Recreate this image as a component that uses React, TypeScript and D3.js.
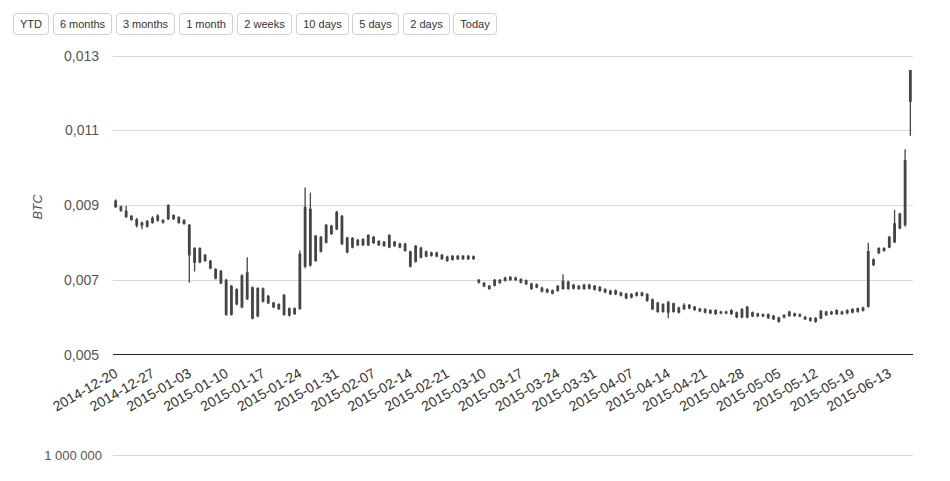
import React from 'react';
import * as d3 from 'd3';

// ---------- data ----------
const buttonLabels = ['YTD', '6 months', '3 months', '1 month', '2 weeks', '10 days', '5 days', '2 days', 'Today'];

const xTickLabels = [
  '2014-12-20', '2014-12-27', '2015-01-03', '2015-01-10', '2015-01-17', '2015-01-24',
  '2015-01-31', '2015-02-07', '2015-02-14', '2015-02-21', '2015-03-10', '2015-03-17',
  '2015-03-24', '2015-03-31', '2015-04-07', '2015-04-14', '2015-04-21', '2015-04-28',
  '2015-05-05', '2015-05-12', '2015-05-19', '2015-06-13',
];
const tickEvery = 7;

const yTicks = [0.005, 0.007, 0.009, 0.011, 0.013];
const volumeTicks = [1000000];

// candles: open, high, low, close
const opens = [
  0.00912, 0.00896, 0.00885, 0.00871, 0.00862, 0.00845, 0.00842, 0.00852, 0.00858, 0.00860,
  0.00900, 0.00873, 0.00868, 0.00860, 0.00847, 0.00785, 0.00785, 0.00767, 0.00751, 0.00729,
  0.00724, 0.00700, 0.00684, 0.00675, 0.00712, 0.00720, 0.00680, 0.00678, 0.00677, 0.00657,
  0.00639, 0.00635, 0.00660, 0.00624, 0.00624, 0.00622, 0.00735, 0.00890, 0.00818, 0.00775,
  0.00799, 0.00822, 0.00835, 0.00871, 0.00813, 0.00786, 0.00807, 0.00792, 0.00820, 0.00798,
  0.00804, 0.00790, 0.00820, 0.00802, 0.00786, 0.00797, 0.00776, 0.00748, 0.00786, 0.00776,
  0.00773, 0.00773, 0.00767, 0.00762, 0.00764, 0.00764, 0.00764, 0.00764, 0.00763, 0.00700,
  0.00692, 0.00684, 0.00684, 0.00691, 0.00697, 0.00699, 0.00706, 0.00702, 0.00699, 0.00690,
  0.00688, 0.00679, 0.00675, 0.00672, 0.00684, 0.00697, 0.00675, 0.00687, 0.00684, 0.00687,
  0.00687, 0.00684, 0.00681, 0.00675, 0.00671, 0.00661, 0.00666, 0.00663, 0.00652, 0.00657,
  0.00666, 0.00662, 0.00648, 0.00639, 0.00614, 0.00640, 0.00637, 0.00626, 0.00621, 0.00623,
  0.00628, 0.00623, 0.00622, 0.00619, 0.00619, 0.00615, 0.00615, 0.00619, 0.00613, 0.00599,
  0.00599, 0.00613, 0.00610, 0.00608, 0.00608, 0.00604, 0.00599, 0.00599, 0.00603, 0.00610,
  0.00608, 0.00601, 0.00598, 0.00598, 0.00596, 0.00605, 0.00608, 0.00608, 0.00608, 0.00610,
  0.00612, 0.00614, 0.00617, 0.00628, 0.00755, 0.00771, 0.00777, 0.00786, 0.00800, 0.00877,
  0.00846, 0.01261,
];
const highs = [
  0.00915, 0.00898, 0.00897, 0.00873, 0.00865, 0.00856, 0.00860, 0.00870, 0.00875, 0.00862,
  0.00902, 0.00875, 0.00870, 0.00862, 0.00849, 0.00787, 0.00787, 0.00769, 0.00753, 0.00731,
  0.00726, 0.00703, 0.00686, 0.00677, 0.00715, 0.00760, 0.00682, 0.00680, 0.00679, 0.00659,
  0.00641, 0.00637, 0.00662, 0.00626, 0.00626, 0.00778, 0.00947, 0.00933, 0.00820, 0.00817,
  0.00849, 0.00847, 0.00884, 0.00873, 0.00815, 0.00814, 0.00809, 0.00811, 0.00822, 0.00817,
  0.00806, 0.00804, 0.00822, 0.00804, 0.00799, 0.00799, 0.00778, 0.00793, 0.00788, 0.00778,
  0.00775, 0.00775, 0.00769, 0.00764, 0.00766, 0.00766, 0.00766, 0.00766, 0.00765, 0.00702,
  0.00694, 0.00686, 0.00702, 0.00702, 0.00708, 0.00710, 0.00708, 0.00704, 0.00701, 0.00692,
  0.00690, 0.00681, 0.00677, 0.00674, 0.00686, 0.00715, 0.00697, 0.00689, 0.00686, 0.00689,
  0.00689, 0.00686, 0.00683, 0.00677, 0.00673, 0.00674, 0.00668, 0.00665, 0.00664, 0.00668,
  0.00668, 0.00664, 0.00650, 0.00641, 0.00637, 0.00644, 0.00639, 0.00628, 0.00637, 0.00635,
  0.00630, 0.00625, 0.00624, 0.00621, 0.00621, 0.00617, 0.00617, 0.00621, 0.00615, 0.00624,
  0.00630, 0.00615, 0.00612, 0.00610, 0.00610, 0.00606, 0.00601, 0.00608, 0.00617, 0.00612,
  0.00610, 0.00603, 0.00600, 0.00600, 0.00619, 0.00617, 0.00617, 0.00621, 0.00617, 0.00621,
  0.00624, 0.00626, 0.00628, 0.00799, 0.00757, 0.00787, 0.00787, 0.00817, 0.00887, 0.00879,
  0.01049, 0.01261,
];
const lows = [
  0.00892, 0.00882, 0.00865, 0.00858, 0.00840, 0.00835, 0.00840, 0.00850, 0.00855, 0.00850,
  0.00860, 0.00860, 0.00850, 0.00847, 0.00692, 0.00722, 0.00744, 0.00748, 0.00728, 0.00701,
  0.00688, 0.00604, 0.00604, 0.00632, 0.00624, 0.00646, 0.00594, 0.00600, 0.00639, 0.00635,
  0.00624, 0.00619, 0.00604, 0.00602, 0.00606, 0.00619, 0.00731, 0.00735, 0.00748, 0.00773,
  0.00797, 0.00820, 0.00833, 0.00793, 0.00771, 0.00784, 0.00790, 0.00790, 0.00790, 0.00796,
  0.00790, 0.00788, 0.00784, 0.00788, 0.00784, 0.00775, 0.00733, 0.00746, 0.00757, 0.00760,
  0.00762, 0.00760, 0.00753, 0.00748, 0.00751, 0.00753, 0.00753, 0.00753, 0.00753, 0.00690,
  0.00680, 0.00673, 0.00682, 0.00689, 0.00695, 0.00697, 0.00697, 0.00690, 0.00686, 0.00673,
  0.00677, 0.00666, 0.00664, 0.00661, 0.00668, 0.00673, 0.00673, 0.00674, 0.00673, 0.00673,
  0.00674, 0.00671, 0.00668, 0.00664, 0.00659, 0.00659, 0.00655, 0.00648, 0.00650, 0.00655,
  0.00655, 0.00641, 0.00619, 0.00612, 0.00612, 0.00597, 0.00612, 0.00610, 0.00619, 0.00621,
  0.00617, 0.00613, 0.00610, 0.00608, 0.00606, 0.00608, 0.00608, 0.00606, 0.00597, 0.00597,
  0.00597, 0.00600, 0.00600, 0.00600, 0.00595, 0.00592, 0.00585, 0.00597, 0.00601, 0.00601,
  0.00600, 0.00592, 0.00588, 0.00585, 0.00594, 0.00603, 0.00606, 0.00606, 0.00606, 0.00608,
  0.00610, 0.00612, 0.00615, 0.00625, 0.00737, 0.00769, 0.00775, 0.00784, 0.00798, 0.00835,
  0.00842, 0.01085,
];
const closes = [
  0.00894, 0.00884, 0.00868, 0.00860, 0.00845, 0.00853, 0.00857, 0.00866, 0.00872, 0.00853,
  0.00862, 0.00862, 0.00852, 0.00849, 0.00765, 0.00745, 0.00746, 0.00750, 0.00730, 0.00703,
  0.00690, 0.00606, 0.00606, 0.00634, 0.00626, 0.00648, 0.00596, 0.00602, 0.00641, 0.00637,
  0.00626, 0.00621, 0.00606, 0.00604, 0.00608, 0.00770, 0.00895, 0.00738, 0.00750, 0.00815,
  0.00847, 0.00845, 0.00882, 0.00795, 0.00773, 0.00812, 0.00792, 0.00809, 0.00792, 0.00815,
  0.00792, 0.00802, 0.00786, 0.00790, 0.00797, 0.00777, 0.00735, 0.00791, 0.00759, 0.00762,
  0.00764, 0.00762, 0.00755, 0.00750, 0.00753, 0.00755, 0.00755, 0.00755, 0.00755, 0.00692,
  0.00682, 0.00675, 0.00700, 0.00700, 0.00706, 0.00708, 0.00699, 0.00692, 0.00688, 0.00675,
  0.00679, 0.00668, 0.00666, 0.00663, 0.00670, 0.00675, 0.00695, 0.00676, 0.00675, 0.00675,
  0.00676, 0.00673, 0.00670, 0.00666, 0.00661, 0.00672, 0.00657, 0.00650, 0.00662, 0.00666,
  0.00657, 0.00643, 0.00621, 0.00614, 0.00635, 0.00612, 0.00614, 0.00612, 0.00633, 0.00633,
  0.00619, 0.00615, 0.00612, 0.00610, 0.00608, 0.00610, 0.00610, 0.00608, 0.00599, 0.00622,
  0.00628, 0.00602, 0.00602, 0.00602, 0.00597, 0.00594, 0.00587, 0.00606, 0.00615, 0.00603,
  0.00602, 0.00594, 0.00590, 0.00587, 0.00617, 0.00615, 0.00615, 0.00619, 0.00615, 0.00619,
  0.00622, 0.00624, 0.00626, 0.00777, 0.00739, 0.00785, 0.00785, 0.00815, 0.00851, 0.00837,
  0.01020, 0.01176,
];

// ---------- helpers ----------
const measureCtx = typeof document !== 'undefined' ? document.createElement('canvas').getContext('2d') : null;
function textWidth(text: string, font: string) {
  if (!measureCtx) return text.length * 6;
  measureCtx.font = font;
  return measureCtx.measureText(text).width;
}

const FONT = '"Liberation Sans", Arial, Helvetica, sans-serif';
const candleColor = '#444';

export default function App() {
  const W = 950;
  const H = 481;
  const plotLeft = 113;
  const plotRight = 913;
  const plotTop = 55.5;
  const plotBottom = 354.5;
  const volumeY = 455.5;

  const n = opens.length;
  const x = d3.scaleBand<number>().domain(d3.range(n)).range([plotLeft, plotRight]).padding(0);
  const bw = x.bandwidth();
  const cx = (i: number) => (x(i) as number) + bw / 2;
  const y = d3.scaleLinear().domain([0.005, 0.013]).range([plotBottom, plotTop]);
  const fmtY = (v: number) => d3.format('.3f')(v).replace('.', ',');
  const fmtVol = (v: number) => d3.format(',')(v).replace(/,/g, ' ');

  // buttons layout computed from text width
  const btnFont = `11px ${FONT}`;
  let bx = 13;
  const buttons = buttonLabels.map((label) => {
    const w = textWidth(label, btnFont) + 13.2;
    const b = { label, x: bx, w };
    bx += w + 4.8;
    return b;
  });

  const bodyW = 2.8;

  return (
    <svg
      width={W}
      height={H}
      style={{ position: 'absolute', left: 0, top: 0, fontFamily: FONT, background: '#fff' }}
    >
      <rect x={0} y={0} width={W} height={H} fill="#fff" />

      {/* range selector buttons */}
      {buttons.map((b) => (
        <g key={b.label}>
          <rect x={Math.round(b.x) + 0.5} y={13.5} width={Math.round(b.w)} height={21} rx={3} ry={3} fill="#fff" stroke="#cfcfcf" />
          <text
            x={Math.round(b.x) + 0.5 + Math.round(b.w) / 2}
            y={28}
            textAnchor="middle"
            fontSize={11}
            fill="#333"
          >
            {b.label}
          </text>
        </g>
      ))}

      {/* grid lines */}
      {yTicks.slice(1).map((t) => (
        <line
          key={t}
          x1={plotLeft}
          x2={plotRight}
          y1={Math.round(y(t)) + 0.5}
          y2={Math.round(y(t)) + 0.5}
          stroke="#d8d8d8"
          strokeWidth={1}
        />
      ))}
      {/* y labels */}
      {yTicks.map((t) => (
        <text
          key={'l' + t}
          x={99}
          y={y(t) + 5}
          textAnchor="end"
          fontSize={14}
          fill="#555"
        >
          {fmtY(t)}
        </text>
      ))}

      {/* axis title */}
      <text
        transform={`translate(42, ${(plotTop + plotBottom) / 2 + 2}) rotate(-90)`}
        textAnchor="middle"
        fontSize={12.5}
        fontStyle="italic"
        fill="#4d4d4d"
      >
        BTC
      </text>

      {/* candles */}
      {opens.map((o, i) => {
        const c = closes[i];
        const top = y(Math.max(o, c));
        const bot = y(Math.min(o, c));
        return (
          <g key={i}>
            <line x1={cx(i)} x2={cx(i)} y1={y(highs[i])} y2={y(lows[i])} stroke={candleColor} strokeWidth={1.3} />
            <rect x={cx(i) - bodyW / 2} y={top} width={bodyW} height={Math.max(1, bot - top)} fill={candleColor} />
          </g>
        );
      })}

      {/* x axis line */}
      <line x1={plotLeft} x2={plotRight} y1={354.5} y2={354.5} stroke="#222" strokeWidth={1} />

      {/* x tick labels */}
      {xTickLabels.map((lab, k) => {
        const i = k * tickEvery;
        const ax = cx(i) + 3;
        const ay = 376;
        return (
          <text
            key={lab}
            transform={`translate(${ax}, ${ay}) rotate(-30)`}
            textAnchor="end"
            fontSize={14}
            fill="#333"
          >
            {lab}
          </text>
        );
      })}

      {/* volume panel */}
      {volumeTicks.map((t) => (
        <g key={'v' + t}>
          <line x1={plotLeft} x2={plotRight} y1={volumeY} y2={volumeY} stroke="#d8d8d8" />
          <text x={102} y={volumeY + 4.5} textAnchor="end" fontSize={13} fill="#555">
            {fmtVol(t)}
          </text>
        </g>
      ))}
    </svg>
  );
}
